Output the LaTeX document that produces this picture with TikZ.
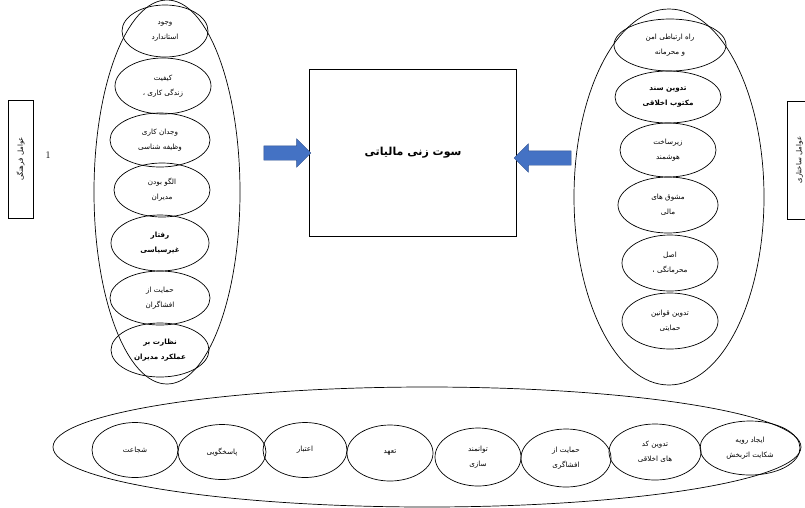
\documentclass[tikz,border=0pt]{standalone}
\usepackage{fontspec}
\usepackage{tikz}
\usetikzlibrary{positioning}
\usetikzlibrary{shapes.geometric}
\usetikzlibrary{shapes.arrows}
\newfontfamily\fafont[Script=Arabic]{DejaVu Sans}
\TeXXeTstate=1
\newcommand{\fa}[1]{\beginR #1\endR}
\definecolor{arrowblue}{RGB}{68,114,196}
\definecolor{arrowline}{RGB}{47,82,143}
\tikzset{%
  bigoval/.style = {ellipse,draw,line width=0.7pt,inner sep=0pt},
  oval/.style = {ellipse,draw,line width=0.7pt,inner sep=0pt,align=center,
        font=\fafont\fontsize{7.2}{15}\selectfont},
  side/.style = {rectangle,draw,line width=0.7pt,inner sep=0pt,rotate=90,
        minimum width=118,minimum height=25,
        font=\fafont\fontsize{7}{8}\selectfont},
  blockarrow/.style = {single arrow,draw=arrowline,fill=arrowblue,
        inner xsep=0pt,inner ysep=7pt,single arrow head extend=7pt,
        minimum height=47}
}

\begin{document}
\begin{tikzpicture}[x=1pt,y=-1pt]
\useasboundingbox (0,0) rectangle (805,507);

\node[bigoval,minimum width=146,minimum height=384] (left) at (167,192) {};
\node[bigoval,minimum width=190,minimum height=376] (right) at (669,197) {};
\node[bigoval,minimum width=748,minimum height=120] (bottom) at (427,447) {};

\node[rectangle,draw,line width=0.7pt,minimum width=207,minimum height=167,
      font=\fafont\fontsize{11}{13}\selectfont\bfseries] (core) at (413,153)
      {\fa{سوت زنی مالیاتی}};

\node[side] (lside) at (20.5,159) {\fa{عوامل فرهنگی}};
\node[side] (rside) at (799.5,160) {\fa{عوامل ساختاری}};
\node[font=\fontsize{10}{12}\selectfont] (one) at (48,155) {1};

\node[blockarrow,anchor=tip] (larrow) at ([xshift=2]core.west) {};
\node[blockarrow,minimum height=57,shape border rotate=180,anchor=tip] (rarrow) at ([xshift=-3]core.east |- 0,158) {};

\node[oval,minimum width=86,minimum height=52] (l1) at (165,31) {\fa{وجود}\\\fa{استاندارد}};
\node[oval,minimum width=96,minimum height=56] (l2) at (163,86) {\fa{کیفیت}\\\fa{زندگی کاری ،}};
\node[oval,minimum width=100,minimum height=54] (l3) at (160,140) {\fa{وجدان کاری}\\\fa{وظیفه شناسی}};
\node[oval,minimum width=96,minimum height=54] (l4) at (162,190) {\fa{الگو بودن}\\\fa{مدیران}};
\node[oval,minimum width=98,minimum height=56,font=\fafont\fontsize{7.2}{15}\selectfont\bfseries] (l5) at (160,243) {\fa{رفتار}\\\fa{غیرسیاسی}};
\node[oval,minimum width=100,minimum height=54] (l6) at (160,298) {\fa{حمایت از}\\\fa{افشاگران}};
\node[oval,minimum width=98,minimum height=54,font=\fafont\fontsize{7.2}{15}\selectfont\bfseries] (l7) at (160,350) {\fa{نظارت بر}\\\fa{عملکرد مدیران}};

\node[oval,minimum width=112,minimum height=52] (r1) at (670,45) {\fa{راه ارتباطی امن}\\\fa{و محرمانه}};
\node[oval,minimum width=106,minimum height=52,font=\fafont\fontsize{7.2}{15}\selectfont\bfseries] (r2) at (668,97) {\fa{تدوین سند}\\\fa{مکتوب اخلاقی}};
\node[oval,minimum width=96,minimum height=54] (r3) at (668,150) {\fa{زیرساخت}\\\fa{هوشمند}};
\node[oval,minimum width=100,minimum height=56] (r4) at (668,205) {\fa{مشوق های}\\\fa{مالی}};
\node[oval,minimum width=96,minimum height=56] (r5) at (670,263) {\fa{اصل}\\\fa{محرمانگی ،}};
\node[oval,minimum width=96,minimum height=56] (r6) at (670,321) {\fa{تدوین قوانین}\\\fa{حمایتی}};

\node[oval,minimum width=86,minimum height=55] (b1) at (135,450) {\fa{شجاعت}};
\node[oval,minimum width=88,minimum height=55] (b2) at (222,452) {\fa{پاسخگویی}};
\node[oval,minimum width=84,minimum height=55] (b3) at (305,450) {\fa{اعتبار}};
\node[oval,minimum width=86,minimum height=56] (b4) at (390,453) {\fa{تعهد}};
\node[oval,minimum width=86,minimum height=58] (b5) at (478,457) {\fa{توانمند}\\\fa{سازی}};
\node[oval,minimum width=90,minimum height=58] (b6) at (566,458) {\fa{حمایت از}\\\fa{افشاگری}};
\node[oval,minimum width=92,minimum height=56] (b7) at (655,452) {\fa{تدوین کد}\\\fa{های اخلاقی}};
\node[oval,minimum width=100,minimum height=54] (b8) at (750,448) {\fa{ایجاد رویه}\\\fa{شکایت اثربخش}};
\end{tikzpicture}
\end{document}
